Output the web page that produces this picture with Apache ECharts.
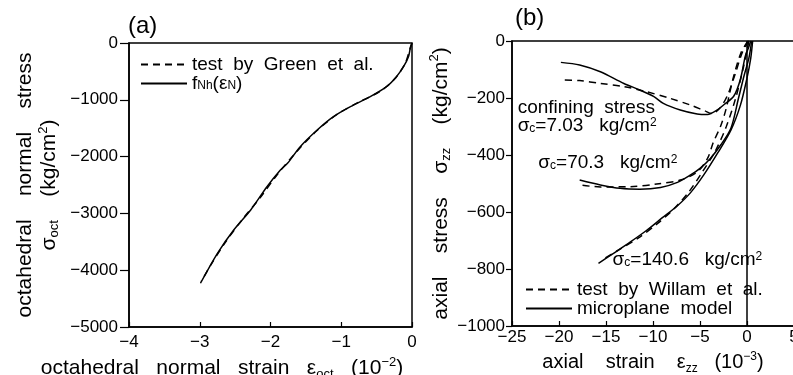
<!DOCTYPE html>
<html><head><meta charset="utf-8">
<script src="https://cdn.jsdelivr.net/npm/echarts@6/dist/echarts.min.js"></script>
<style>html,body{margin:0;padding:0;background:#fff}#c{width:793px;height:375px}</style>
</head><body><div id="c"></div>
<script>
// ---------- Panel (a): octahedral normal stress vs strain ----------
const aXTicks = [-4, -3, -2, -1, 0];
const aYTicks = [-5000, -4000, -3000, -2000, -1000, 0];
const aModelStrain = [0, -0.02, -0.05, -0.12, -0.22, -0.36, -0.59, -0.87, -1.11, -1.34, -1.58, -1.76, -1.86, -2.05, -2.28, -2.52, -2.75, -2.99];
const aModelStress = [0, -65, -241, -417, -593, -769, -945, -1121, -1297, -1532, -1826, -2118, -2236, -2530, -2940, -3292, -3702, -4230];
const aTestStrain = [0, -0.03, -0.1, -0.25, -0.45, -0.75, -1.05, -1.35, -1.65, -1.9, -2.15, -2.4, -2.65, -2.85, -2.98];
const aTestStress = [0, -110, -370, -640, -850, -1040, -1250, -1550, -1940, -2310, -2730, -3110, -3530, -3920, -4200];

// ---------- Panel (b): axial stress vs axial strain ----------
const bXTicks = [-25, -20, -15, -10, -5, 0, 5];
const bYTicks = [-1000, -800, -600, -400, -200, 0];
// sigma_c = 7.03
const b1ModelStrain = [0.4, 0.2, -0.18, -0.7, -1.4, -2.4, -3.2, -4.2, -5.3, -7.1, -8.9, -9.9, -11.4, -13.1, -15.6, -17.8, -19.8];
const b1ModelStress = [0, -20, -53, -134, -193, -222, -243, -258, -256, -242, -219, -195, -172, -149, -108, -84, -75];
const b1TestStrain = [0.2, -0.5, -1.2, -2.0, -2.8, -3.7, -4.5, -6.0, -8.2, -10.7, -13.1, -15.6, -17.8, -19.8];
const b1TestStress = [0, -40, -110, -185, -232, -255, -245, -225, -201, -178, -160, -149, -139, -137];
// sigma_c = 70.3
const b2ModelStrain = [0.5, 0.2, -0.3, -0.9, -1.7, -2.8, -3.9, -5.0, -6.0, -7.4, -9.2, -11.4, -13.5, -15.6, -17.8];
const b2ModelStress = [0, -60, -120, -200, -305, -365, -412, -447, -470, -496, -514, -520, -517, -505, -488];
const b2TestStrain = [0.1, -0.64, -1.5, -2.24, -2.8, -3.6, -4.2, -5.3, -7.1, -9.6, -12.4, -15.6, -17.8];
const b2TestStress = [0, -41, -134, -240, -298, -357, -412, -460, -488, -502, -511, -512, -505];
// sigma_c = 140.6
const b3ModelStrain = [0.6, 0.4, 0, -0.7, -1.7, -3.1, -4.6, -6.0, -7.4, -9.0, -10.7, -12.4, -14.2, -15.8];
const b3ModelStress = [0, -60, -130, -225, -312, -392, -470, -532, -578, -620, -665, -705, -745, -780];
const b3TestStrain = [0.2, -0.4, -1.2, -2.2, -3.4, -4.8, -6.2, -7.8, -9.5, -11.5, -13.5, -15.5];
const b3TestStress = [0, -95, -200, -300, -388, -462, -530, -590, -640, -690, -730, -770];

const aLegendTest = 'test by Green et al.';
const aLegendModel = 'fNh(εN)';
const bLegendTest = 'test by Willam et al.';
const bLegendModel = 'microplane model';

const FONT = 'Liberation Sans';
const zip = (xs, ys) => xs.map((x, i) => [x, ys[i]]);
const minus = v => String(v).replace('-', '\u2212');
const rich = (size, lh) => {
  lh = lh || size + 4;
  return {
    t: {fontSize: size, fontFamily: FONT, color: '#000', lineHeight: lh},
    sub: {fontSize: Math.round(size * 0.62), fontFamily: FONT, color: '#000', verticalAlign: 'bottom', lineHeight: lh},
    sup: {fontSize: Math.round(size * 0.62), fontFamily: FONT, color: '#000', verticalAlign: 'top', lineHeight: lh}
  };
};
const sp = n => ' '.repeat(n);

const solid = {color: '#000', width: 1.5, type: 'solid'};
const dashed = {color: '#000', width: 1.5, type: [7, 5]};
function mkLine(name, data, ls, xi, extra) {
  return Object.assign({
    type: 'line', name: name, data: data, xAxisIndex: xi, yAxisIndex: xi,
    symbol: 'none', smooth: 0.3, lineStyle: ls, itemStyle: {color: '#000'},
    silent: true, animation: false, z: 3
  }, extra || {});
}

const axisBase = {
  axisLine: {show: true, onZero: false, lineStyle: {color: '#000', width: 1.5}},
  splitLine: {show: false},
  axisLabel: {color: '#000', fontFamily: FONT, fontSize: 17, formatter: minus, showMinLabel: true, showMaxLabel: true}
};
const legendBase = {
  orient: 'vertical', itemWidth: 46, itemHeight: 14, itemGap: 0, padding: 0, selectedMode: false,
  itemStyle: {opacity: 0, borderWidth: 0},
  textStyle: {fontFamily: FONT, fontSize: 19, color: '#000', rich: rich(19, 17)}
};
const titleStyle = {fontFamily: FONT, fontSize: 24, fontWeight: 'normal', color: '#000'};

const chart = echarts.init(document.getElementById('c'));
chart.setOption({
  animation: false,
  backgroundColor: '#fff',
  title: [
    {text: '(a)', left: 128, top: 14, padding: 0, textStyle: titleStyle},
    {text: '(b)', left: 515, top: 6, padding: 0, textStyle: titleStyle}
  ],
  grid: [
    {left: 129, top: 43, width: 283, height: 284, show: true, borderColor: '#000', borderWidth: 1.5, backgroundColor: 'transparent', containLabel: false, outerBoundsMode: 'none'},
    {left: 512, top: 41, width: 282, height: 285, show: true, borderColor: '#000', borderWidth: 1.5, backgroundColor: 'transparent', containLabel: false, outerBoundsMode: 'none'}
  ],
  legend: [
    Object.assign({}, legendBase, {
      left: 140, top: 55,
      data: [aLegendTest, aLegendModel],
      formatter: n => n === aLegendModel ? '{t|f}{sub|Nh}{t|(ε}{sub|N}{t|)}' : '{t|' + n.replace(/ /g, sp(2)) + '}'
    }),
    Object.assign({}, legendBase, {
      left: 525, top: 280,
      data: [bLegendTest, bLegendModel],
      formatter: n => '{t|' + n.replace(/ /g, sp(2)) + '}'
    })
  ],
  xAxis: [
    Object.assign({}, axisBase, {
      type: 'value', gridIndex: 0, min: aXTicks[0], max: aXTicks[aXTicks.length - 1], interval: aXTicks[1] - aXTicks[0],
      axisTick: {show: true, inside: true, length: 5, lineStyle: {color: '#000', width: 1.2}},
      axisLabel: Object.assign({}, axisBase.axisLabel, {margin: 7}),
      name: '{t|octahedral' + sp(3) + 'normal' + sp(3) + 'strain' + sp(3) + 'ε}{sub|oct}{t|' + sp(3) + '(10}{sup|−2}{t|)}',
      nameLocation: 'middle', nameGap: 27,
      nameTextStyle: {rich: rich(21), padding: [0, 97, 0, 0]}
    }),
    Object.assign({}, axisBase, {
      type: 'value', gridIndex: 1, min: bXTicks[0], max: bXTicks[bXTicks.length - 1], interval: bXTicks[1] - bXTicks[0],
      axisTick: {show: true, inside: true, length: 5, lineStyle: {color: '#000', width: 1.2}},
      axisLabel: Object.assign({}, axisBase.axisLabel, {margin: 3}),
      name: '{t|axial' + sp(4) + 'strain' + sp(4) + 'ε}{sub|zz}{t|' + sp(3) + '(10}{sup|−3}{t|)}',
      nameLocation: 'middle', nameGap: 22,
      nameTextStyle: {rich: rich(20)}
    })
  ],
  yAxis: [
    Object.assign({}, axisBase, {
      type: 'value', gridIndex: 0, min: aYTicks[0], max: aYTicks[aYTicks.length - 1], interval: aYTicks[1] - aYTicks[0],
      axisTick: {show: true, inside: false, length: 9, lineStyle: {color: '#000', width: 1.2}},
      axisLabel: Object.assign({}, axisBase.axisLabel, {margin: 11}),
      name: '{t|octahedral' + sp(4) + 'normal' + sp(4) + 'stress}\n{t|σ}{sub|oct}{t|' + sp(4) + '(kg/cm}{sup|2}{t|)}',
      nameLocation: 'middle', nameRotate: 90, nameGap: 68,
      nameTextStyle: {rich: rich(21, 24)}
    }),
    Object.assign({}, axisBase, {
      type: 'value', gridIndex: 1, min: bYTicks[0], max: bYTicks[bYTicks.length - 1], interval: bYTicks[1] - bYTicks[0],
      axisTick: {show: true, inside: false, length: 6, lineStyle: {color: '#000', width: 1.2}},
      axisLabel: Object.assign({}, axisBase.axisLabel, {margin: 7}),
      name: '{t|axial' + sp(4) + 'stress' + sp(4) + 'σ}{sub|zz}{t|' + sp(4) + '(kg/cm}{sup|2}{t|)}',
      nameLocation: 'middle', nameRotate: 90, nameGap: 54,
      nameTextStyle: {rich: rich(21)}
    })
  ],
  series: [
    mkLine(aLegendTest, zip(aTestStrain, aTestStress), dashed, 0),
    mkLine(aLegendModel, zip(aModelStrain, aModelStress), solid, 0),
    mkLine(bLegendTest, zip(b1TestStrain, b1TestStress), dashed, 1),
    mkLine(bLegendModel, zip(b1ModelStrain, b1ModelStress), solid, 1, {
      markLine: {silent: true, symbol: ['none', 'none'], label: {show: false}, lineStyle: {color: '#000', width: 1.5, type: 'solid'}, data: [{xAxis: 0}]},
      markPoint: {
        symbol: 'circle', symbolSize: 0, silent: true,
        label: {show: true, position: 'right', distance: 0, rich: rich(19, 18)},
        data: [
          {coord: [-24.4, -265], label: {formatter: '{t|confining' + sp(2) + 'stress}\n{t|σ}{sub|c}{t|=7.03' + sp(3) + 'kg/cm}{sup|2}'}},
          {coord: [-22.2, -428], label: {formatter: '{t|σ}{sub|c}{t|=70.3' + sp(3) + 'kg/cm}{sup|2}'}},
          {coord: [-14.3, -768], label: {formatter: '{t|σ}{sub|c}{t|=140.6' + sp(3) + 'kg/cm}{sup|2}'}}
        ]
      }
    }),
    mkLine(bLegendTest, zip(b2TestStrain, b2TestStress), dashed, 1),
    mkLine(bLegendModel, zip(b2ModelStrain, b2ModelStress), solid, 1),
    mkLine(bLegendTest, zip(b3TestStrain, b3TestStress), dashed, 1),
    mkLine(bLegendModel, zip(b3ModelStrain, b3ModelStress), solid, 1)
  ]
});
</script></body></html>
